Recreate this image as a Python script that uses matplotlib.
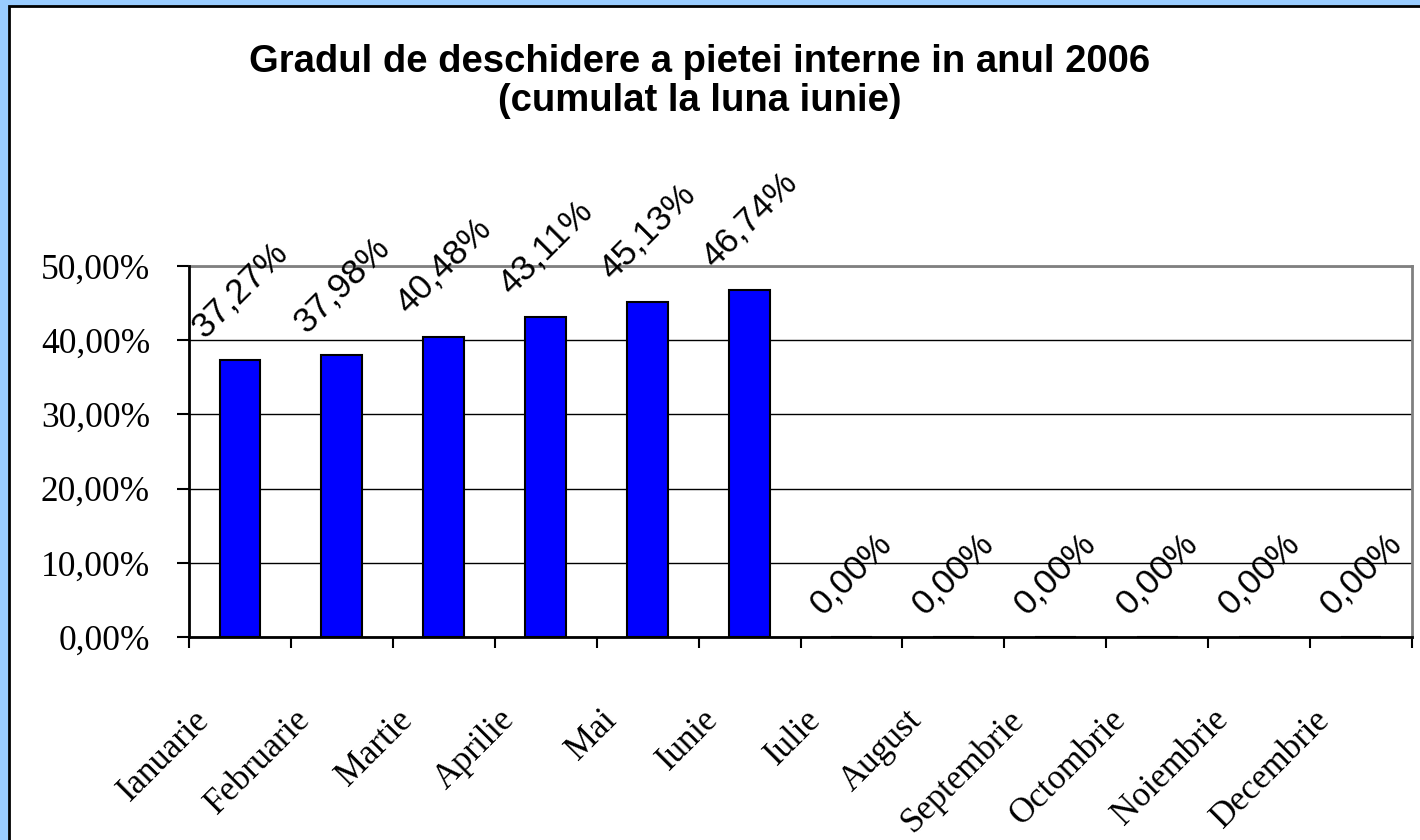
import matplotlib
matplotlib.use("Agg")
import matplotlib.pyplot as plt
from matplotlib.patches import Rectangle
from matplotlib.transforms import offset_copy

months = ["Ianuarie", "Februarie", "Martie", "Aprilie", "Mai", "Iunie", "Iulie",
          "August", "Septembrie", "Octombrie", "Noiembrie", "Decembrie"]
values = [37.27, 37.98, 40.48, 43.11, 45.13, 46.74, 0.0, 0.0, 0.0, 0.0, 0.0, 0.0]
yticks = [0, 10, 20, 30, 40, 50]
title = "Gradul de deschidere a pietei interne in anul 2006\n(cumulat la luna iunie)"

W, H = 1420, 840
fig = plt.figure(figsize=(W / 100, H / 100), dpi=100)
fig.patch.set_facecolor("#99CCFF")
fig.patches.append(Rectangle((9 / W, -0.05), 1.2, (H - 6) / H + 0.05,
                             transform=fig.transFigure, facecolor="white",
                             edgecolor="black", linewidth=2, zorder=-10))

ax = fig.add_axes([189 / W, (H - 637) / H, (1412 - 189) / W, (637 - 266) / H])
ax.set_zorder(1)
ax.set_facecolor("white")

x = [i + 0.5 for i in range(len(months))]
ax.bar(x, values, width=0.4, color="#0000FF", edgecolor="black", linewidth=1.5, zorder=3)

ax.set_xlim(0, 12)
ax.set_ylim(0, 50)
ax.set_yticks(yticks)
ax.set_yticklabels([f"{v:.2f}%".replace(".", ",") for v in yticks],
                   fontfamily="Liberation Serif", fontsize=25.5)
ax.set_xticks(range(13))
ax.set_xticklabels([])
ax.tick_params(axis="y", direction="out", length=9, width=1.5, pad=19)
ax.tick_params(axis="x", direction="out", length=8, width=1.5)
ax.grid(axis="y", color="black", linewidth=1, zorder=1)
ax.set_axisbelow(True)

for s in ["left", "bottom"]:
    ax.spines[s].set_color("black")
    ax.spines[s].set_linewidth(2)
    ax.spines[s].set_zorder(4)
for s in ["top", "right"]:
    ax.spines[s].set_color("#808080")
    ax.spines[s].set_linewidth(2)

# value labels
for xi, v in zip(x, values):
    ax.annotate(f"{v:.2f}%".replace(".", ","), (xi, v), xytext=(0, 12),
                textcoords="offset points", rotation=45, ha="center", va="bottom",
                fontfamily=["Liberation Sans Narrow", "Liberation Sans"], fontsize=25.5,
                zorder=5, annotation_clip=False)

# category labels
base = offset_copy(ax.get_xaxis_transform(), fig=fig, x=-30, y=-84, units="dots")
for xi, m in zip(x, months):
    ax.text(xi, 0, m, transform=base, rotation=45, rotation_mode="anchor",
            ha="right", va="baseline", fontfamily="Liberation Serif", fontsize=25)

fig.text(700 / W, 1 - 44 / H, title, ha="center", va="top", fontfamily="Liberation Sans",
         fontweight="bold", fontsize=27.5, linespacing=1.1)

fig.savefig("out.png", dpi=100, facecolor=fig.get_facecolor())
